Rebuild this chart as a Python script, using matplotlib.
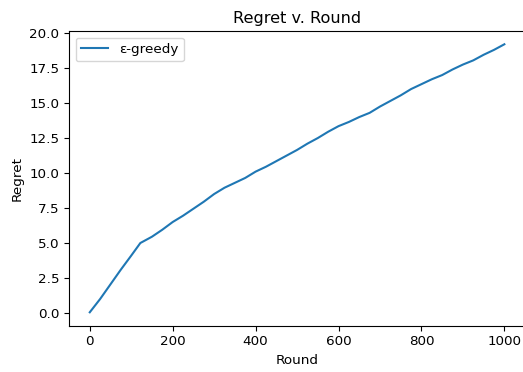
import matplotlib
matplotlib.use("Agg")
import matplotlib.pyplot as plt

plt.rcParams["font.size"] = 9.7
plt.rcParams["axes.titlesize"] = 11.6
plt.rcParams["axes.linewidth"] = 0.8
plt.rcParams["xtick.major.size"] = 3.4
plt.rcParams["ytick.major.size"] = 3.4
plt.rcParams["xtick.major.width"] = 0.8
plt.rcParams["ytick.major.width"] = 0.8

# values
rounds = [0, 25, 50, 75, 100, 122, 150, 175, 200, 225, 250, 275, 300, 325,
          350, 375, 400, 425, 450, 475, 500, 525, 550, 575, 600, 625, 650,
          675, 700, 725, 750, 775, 800, 825, 850, 875, 900, 925, 950, 975, 1000]
regret = [0.05, 1.0, 2.05, 3.1, 4.1, 5.0, 5.45, 5.95, 6.5, 6.95, 7.45, 7.95, 8.5, 8.95,
          9.3, 9.65, 10.1, 10.45, 10.85, 11.25, 11.65, 12.1, 12.5, 12.95, 13.35, 13.65, 14.0,
          14.3, 14.75, 15.15, 15.55, 16.0, 16.35, 16.7, 17.0, 17.4, 17.75, 18.05, 18.45, 18.8, 19.2]

fig = plt.figure(figsize=(5.23, 3.72), dpi=100)
# the right spine falls just outside the picture, as in the reference
ax = fig.add_axes([0.132, 0.1245, 0.872, 0.7925])
ax.plot(rounds, regret, label="ε-greedy", color="#1f77b4", linewidth=1.5)
ax.set_title("Regret v. Round")
ax.set_xlabel("Round")
ax.set_ylabel("Regret")
ax.set_xticks([0, 200, 400, 600, 800, 1000])
ax.set_yticks([0, 2.5, 5, 7.5, 10, 12.5, 15, 17.5, 20])
ax.legend(loc="upper left")
fig.savefig("out.png", dpi=100)
